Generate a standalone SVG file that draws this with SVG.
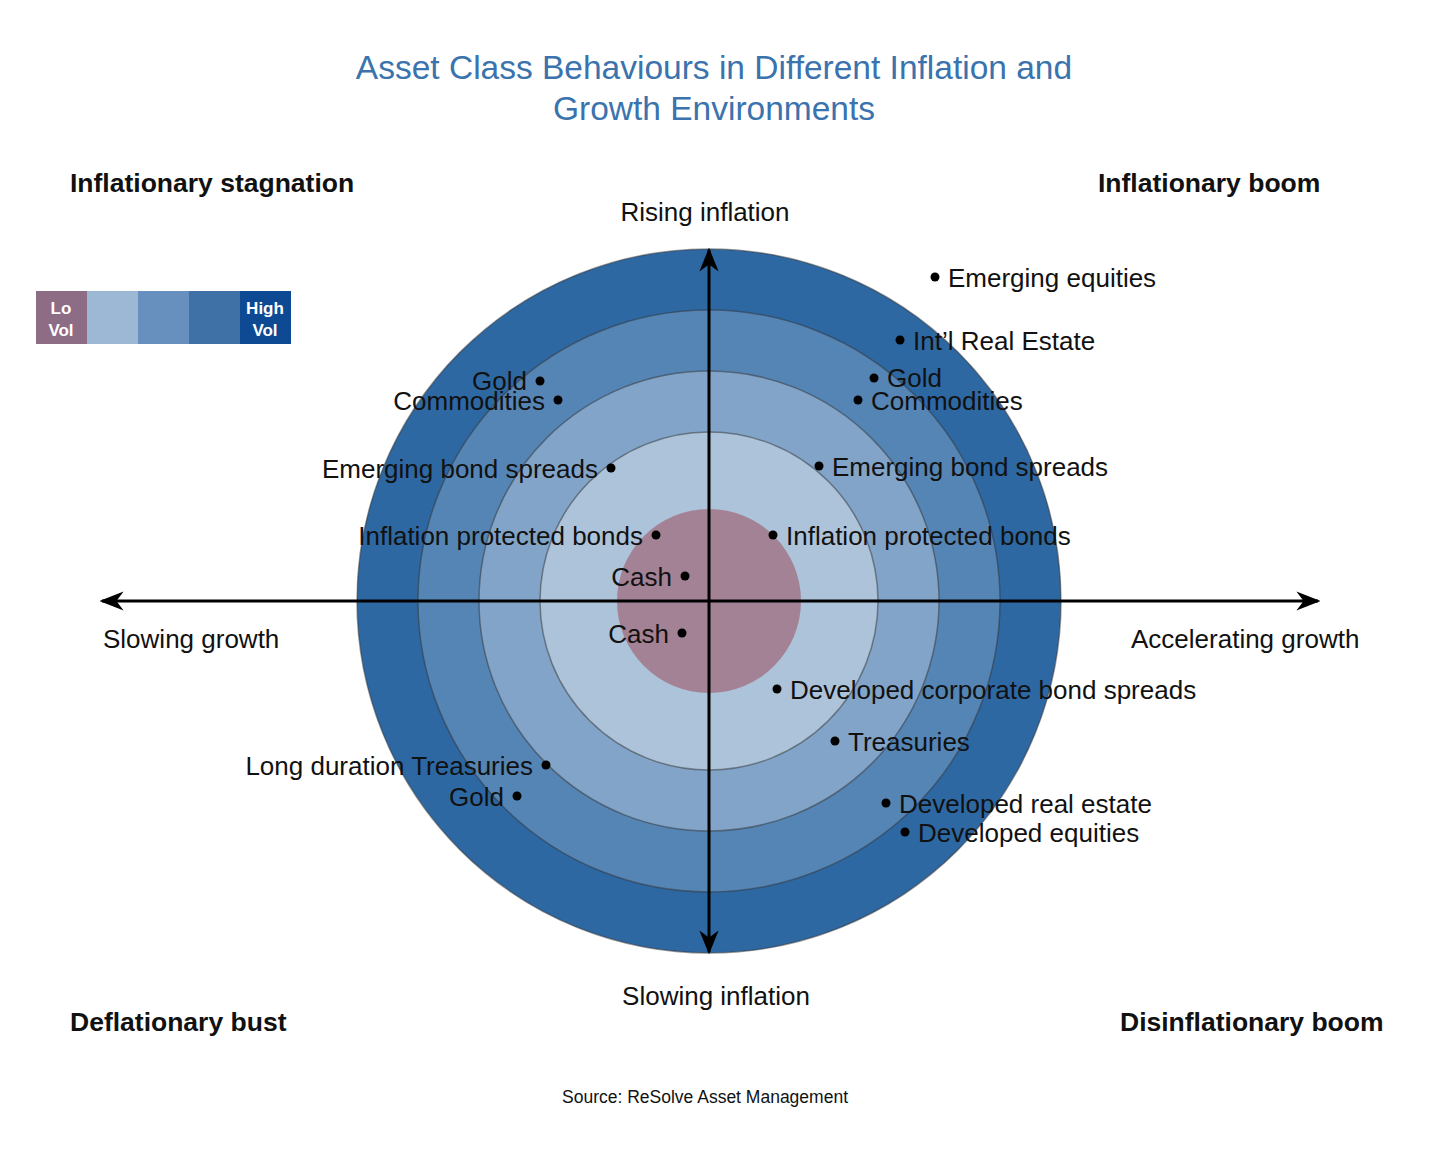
<svg xmlns="http://www.w3.org/2000/svg" width="1440" height="1156" viewBox="0 0 1440 1156">
<style>
text{font-family:"Liberation Sans",Arial,sans-serif;fill:#111}
.t{font-size:33.5px;fill:#3a73ad;text-anchor:middle}
.q{font-size:26.5px;font-weight:bold}
.l{font-size:26px}
.s{font-size:17.5px}
.ring{stroke:#333;stroke-opacity:0.5;stroke-width:1.5}
.lg{font-size:17px;font-weight:bold;fill:#fff;text-anchor:middle}
</style>
<defs>
<marker id="a" viewBox="0 0 10 10" refX="9" refY="5" markerWidth="8" markerHeight="8" orient="auto-start-reverse"><path d="M0,1 L10,5 L0,9 L3,5z" fill="#000"/></marker>
</defs>
<rect width="1440" height="1156" fill="#fff"/>
<text class="t" x="714" y="79">Asset Class Behaviours in Different Inflation and</text>
<text class="t" x="714" y="120">Growth Environments</text>
<g id="quadrants">
<text class="q" x="70" y="192">Inflationary stagnation</text>
<text class="q" x="1098" y="192">Inflationary boom</text>
<text class="q" x="70" y="1031">Deflationary bust</text>
<text class="q" x="1120" y="1031">Disinflationary boom</text>
</g>
<g id="legend">
<rect x="36" y="291" width="51" height="53" fill="#8d6c86"/>
<rect x="87" y="291" width="51" height="53" fill="#9cb8d5"/>
<rect x="138" y="291" width="51" height="53" fill="#6890be"/>
<rect x="189" y="291" width="51" height="53" fill="#3f70a6"/>
<rect x="240" y="291" width="51" height="53" fill="#0d4a93"/>
<text class="lg" x="61" y="314">Lo</text><text class="lg" x="61" y="336">Vol</text>
<text class="lg" x="265" y="314">High</text><text class="lg" x="265" y="336">Vol</text>
</g>
<g id="rings">
<circle class="ring" cx="709" cy="601" r="352" fill="#2e68a3"/>
<circle class="ring" cx="709" cy="601" r="291" fill="#5585b5"/>
<circle class="ring" cx="709" cy="601" r="230" fill="#82a4c8"/>
<circle class="ring" cx="709" cy="601" r="169" fill="#adc3da"/>
<circle cx="709" cy="601" r="92" fill="#a48295"/>
</g>
<g id="connectors" stroke="#000" stroke-width="3">
<line x1="102" y1="601" x2="1318" y2="601" marker-start="url(#a)" marker-end="url(#a)"/>
<line x1="709" y1="952" x2="709" y2="250" marker-start="url(#a)" marker-end="url(#a)"/>
</g>
<g id="axislabels">
<text class="l" x="705" y="221" text-anchor="middle">Rising inflation</text>
<text class="l" x="716" y="1005" text-anchor="middle">Slowing inflation</text>
<text class="l" x="103" y="648">Slowing growth</text>
<text class="l" x="1131" y="648">Accelerating growth</text>
</g>
<g id="points">
<g fill="#000">
<circle cx="935" cy="277" r="4.5"/><circle cx="900" cy="340" r="4.5"/><circle cx="874" cy="378" r="4.5"/><circle cx="858" cy="400" r="4.5"/><circle cx="819" cy="466" r="4.5"/><circle cx="773" cy="535" r="4.5"/>
<circle cx="540" cy="381" r="4.5"/><circle cx="558" cy="400" r="4.5"/><circle cx="611" cy="468" r="4.5"/><circle cx="656" cy="535" r="4.5"/><circle cx="685" cy="576" r="4.5"/><circle cx="682" cy="633" r="4.5"/>
<circle cx="777" cy="689" r="4.5"/><circle cx="835" cy="741" r="4.5"/><circle cx="886" cy="803" r="4.5"/><circle cx="905" cy="832" r="4.5"/>
<circle cx="546" cy="765" r="4.5"/><circle cx="517" cy="796" r="4.5"/>
</g>
<text class="l" x="948" y="287">Emerging equities</text>
<text class="l" x="913" y="350">Int’l Real Estate</text>
<text class="l" x="887" y="387">Gold</text>
<text class="l" x="871" y="410">Commodities</text>
<text class="l" x="832" y="476">Emerging bond spreads</text>
<text class="l" x="786" y="545">Inflation protected bonds</text>
<g text-anchor="end">
<text class="l" x="527" y="390">Gold</text>
<text class="l" x="545" y="410">Commodities</text>
<text class="l" x="598" y="478">Emerging bond spreads</text>
<text class="l" x="643" y="545">Inflation protected bonds</text>
<text class="l" x="672" y="586">Cash</text>
<text class="l" x="669" y="643">Cash</text>
<text class="l" x="533" y="775">Long duration Treasuries</text>
<text class="l" x="504" y="806">Gold</text>
</g>
<text class="l" x="790" y="699">Developed corporate bond spreads</text>
<text class="l" x="848" y="751">Treasuries</text>
<text class="l" x="899" y="813">Developed real estate</text>
<text class="l" x="918" y="842">Developed equities</text>
</g>
<text class="s" x="705" y="1103" text-anchor="middle">Source: ReSolve Asset Management</text>
</svg>
